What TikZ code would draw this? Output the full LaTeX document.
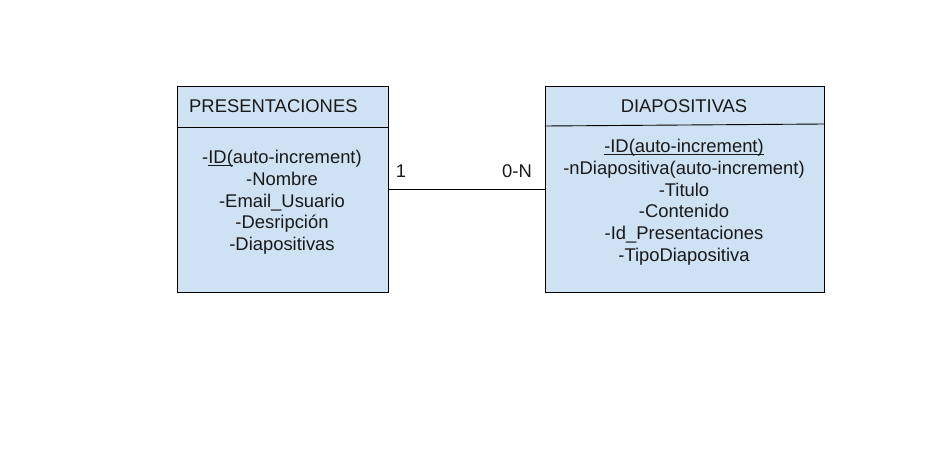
\documentclass[tikz,border=0pt]{standalone}
\usepackage{fontspec}
\setmainfont{Liberation Sans}
\definecolor{boxblue}{HTML}{CFE2F3}
\newcommand{\ulid}[1]{\underline{\smash{#1}}}
\begin{document}
\begin{tikzpicture}[x=1pt,y=-1pt,
  entity/.style={draw=black, fill=boxblue, line width=0.9pt, inner sep=0pt, anchor=north west},
  txt/.style={font=\fontsize{18.4}{21.8}\selectfont, inner sep=0pt, text=black!90},
  body/.style={txt, align=center, anchor=north}]
\useasboundingbox (0,0) rectangle (930,455);
\node[entity, minimum width=211pt, minimum height=206pt] (P) at (177,86) {};
\node[entity, minimum width=279pt, minimum height=206pt] (D) at (544.5,86) {};
\draw[line width=0.9pt] (P.west |- 0,127.3) -- (P.east |- 0,127.3);
\draw[line width=0.9pt] (D.west |- 0,126) -- (D.east |- 0,124);
\node[txt, anchor=west] (Ph) at (189,106) {PRESENTACIONES};
\node[txt] (Dh) at (684,106) {DIAPOSITIVAS};
\node[body] (Pb) at (282,150) {-\ulid{ID(}auto-increment)\\-Nombre\\-Email\_Usuario\\-Desripción\\-Diapositivas};
\node[body] (Db) at (684,137) {\strut\ulid{-ID(auto-increment)}\\-nDiapositiva(auto-increment)\\-Titulo\\-Contenido\\-Id\_Presentaciones\\-TipoDiapositiva};
\draw[line width=0.9pt] (P.east) -- (D.west);
\node[txt] (m1) at (401,171) {1};
\node[txt] (mN) at (517,171) {0-N};
\end{tikzpicture}
\end{document}
